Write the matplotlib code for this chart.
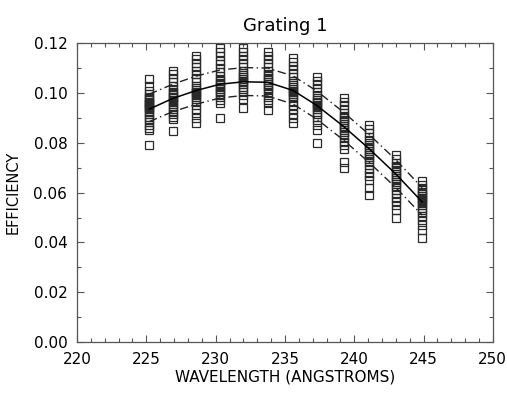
import matplotlib
matplotlib.use('Agg')
import matplotlib.pyplot as plt
from matplotlib.ticker import MultipleLocator

# wavelengths of the measurement columns (angstroms)
wavelengths = [225.2, 226.9, 228.6, 230.3, 232.0, 233.75,
               235.6, 237.3, 239.25, 241.1, 243.0, 244.9]

# measured efficiencies, one list per wavelength
measured = [
    [0.1055, 0.1030, 0.1010, 0.0995, 0.0985, 0.0978, 0.0970, 0.0965, 0.0960, 0.0955, 0.0950, 0.0945,
     0.0940, 0.0935, 0.0925, 0.0915, 0.0905, 0.0895, 0.0885, 0.0870, 0.0860, 0.0850, 0.0790],
    [0.1090, 0.1075, 0.1060, 0.1045, 0.1030, 0.1015, 0.1005, 0.0998, 0.0990, 0.0985, 0.0978, 0.0970,
     0.0962, 0.0955, 0.0945, 0.0935, 0.0925, 0.0915, 0.0905, 0.0895, 0.0848],
    [0.1150, 0.1135, 0.1120, 0.1105, 0.1090, 0.1075, 0.1060, 0.1045, 0.1030, 0.1020, 0.1012, 0.1005,
     0.0998, 0.0990, 0.0982, 0.0975, 0.0965, 0.0950, 0.0935, 0.0920, 0.0900, 0.0880],
    [0.1180, 0.1165, 0.1150, 0.1130, 0.1115, 0.1100, 0.1085, 0.1070, 0.1058, 0.1048, 0.1040, 0.1033,
     0.1025, 0.1018, 0.1010, 0.1002, 0.0995, 0.0985, 0.0970, 0.0960, 0.0900],
    [0.1180, 0.1165, 0.1150, 0.1135, 0.1120, 0.1105, 0.1090, 0.1080, 0.1072, 0.1065, 0.1058, 0.1050,
     0.1043, 0.1035, 0.1025, 0.1015, 0.1005, 0.0990, 0.0975, 0.0940],
    [0.1165, 0.1150, 0.1135, 0.1120, 0.1105, 0.1090, 0.1078, 0.1068, 0.1060, 0.1052, 0.1045, 0.1038,
     0.1030, 0.1022, 0.1012, 0.1000, 0.0985, 0.0970, 0.0960, 0.0930],
    [0.1140, 0.1125, 0.1110, 0.1095, 0.1080, 0.1065, 0.1050, 0.1040, 0.1032, 0.1025, 0.1018, 0.1010,
     0.1002, 0.0995, 0.0987, 0.0978, 0.0965, 0.0950, 0.0935, 0.0915, 0.0900, 0.0880],
    [0.1065, 0.1050, 0.1035, 0.1020, 0.1005, 0.0990, 0.0980, 0.0972, 0.0965, 0.0958, 0.0950, 0.0943,
     0.0935, 0.0925, 0.0915, 0.0905, 0.0890, 0.0870, 0.0850, 0.0800],
    [0.0980, 0.0965, 0.0950, 0.0935, 0.0920, 0.0908, 0.0898, 0.0890, 0.0882, 0.0875, 0.0868, 0.0860,
     0.0852, 0.0843, 0.0833, 0.0820, 0.0805, 0.0790, 0.0775, 0.0725, 0.0700],
    [0.0870, 0.0855, 0.0840, 0.0825, 0.0812, 0.0800, 0.0790, 0.0782, 0.0775, 0.0768, 0.0760, 0.0752,
     0.0745, 0.0735, 0.0722, 0.0710, 0.0695, 0.0680, 0.0665, 0.0650, 0.0620, 0.0592],
    [0.0750, 0.0735, 0.0720, 0.0708, 0.0698, 0.0690, 0.0682, 0.0675, 0.0668, 0.0660, 0.0652, 0.0643,
     0.0633, 0.0622, 0.0610, 0.0595, 0.0580, 0.0565, 0.0550, 0.0530, 0.0500],
    [0.0645, 0.0632, 0.0620, 0.0610, 0.0602, 0.0595, 0.0588, 0.0580, 0.0573, 0.0566, 0.0558, 0.0550,
     0.0540, 0.0530, 0.0518, 0.0505, 0.0490, 0.0470, 0.0450, 0.0420],
]

# fitted curve and its upper / lower envelope
fit = [0.0935, 0.0978, 0.1010, 0.1035, 0.1045, 0.1043, 0.1010, 0.0950, 0.0865, 0.0775, 0.0675, 0.0563]
fit_upper = [0.0995, 0.1035, 0.1068, 0.1092, 0.1102, 0.1100, 0.1068, 0.1008, 0.0922, 0.0832, 0.0732, 0.0620]
fit_lower = [0.0885, 0.0925, 0.0955, 0.0980, 0.0990, 0.0988, 0.0955, 0.0895, 0.0810, 0.0720, 0.0620, 0.0510]

fig = plt.figure(figsize=(5.07, 3.96), dpi=100)
ax = fig.add_axes([0.152, 0.136, 0.820, 0.755])

for wl, vals in zip(wavelengths, measured):
    ax.plot([wl] * len(vals), vals, linestyle='none', marker='s', markersize=5.6,
            markerfacecolor='none', markeredgecolor='#2a2a2a', markeredgewidth=0.9)

ax.plot(wavelengths, fit, color='black', linewidth=1.1)
ax.plot(wavelengths, fit_upper, color='#222222', linewidth=1.0, linestyle=(0, (6, 2.5, 1, 2.5)))
ax.plot(wavelengths, fit_lower, color='#222222', linewidth=1.0, linestyle=(0, (6, 2.5, 1, 2.5)))

ax.set_xlim(220, 250)
ax.set_ylim(0, 0.12)
ax.xaxis.set_major_locator(MultipleLocator(5))
ax.xaxis.set_minor_locator(MultipleLocator(1))
ax.yaxis.set_major_locator(MultipleLocator(0.02))
ax.yaxis.set_minor_locator(MultipleLocator(0.01))
ax.yaxis.set_major_formatter(matplotlib.ticker.FormatStrFormatter('%.2f'))

ax.tick_params(which='both', direction='in', top=True, right=True, color='#555555')
ax.tick_params(which='major', length=5, width=0.8, labelsize=11, pad=7)
ax.tick_params(which='minor', length=3, width=0.8)
for s in ax.spines.values():
    s.set_color('#555555')
    s.set_linewidth(0.9)

ax.set_title('Grating 1', fontsize=13, pad=9)
ax.set_xlabel('WAVELENGTH (ANGSTROMS)', fontsize=11, labelpad=2)
ax.set_ylabel('EFFICIENCY', fontsize=10.5, labelpad=9)

fig.savefig('out.png', dpi=100)
